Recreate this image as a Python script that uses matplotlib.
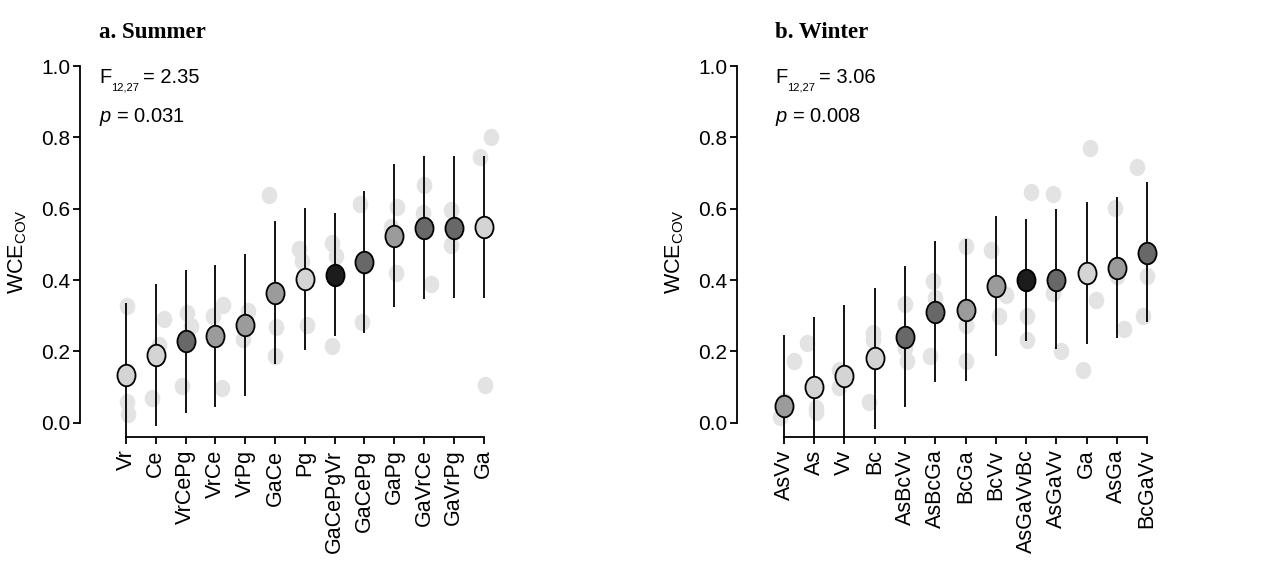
import matplotlib
matplotlib.use("Agg")
import matplotlib.pyplot as plt
from matplotlib.path import Path
from matplotlib.transforms import Affine2D

plt.rcParams['font.family'] = ['Liberation Sans', 'DejaVu Sans']
plt.rcParams['mathtext.fontset'] = 'custom'
plt.rcParams['mathtext.rm'] = 'Liberation Sans'
plt.rcParams['mathtext.it'] = 'Liberation Sans:italic'
plt.rcParams['mathtext.default'] = 'regular'

# ---------------- data ----------------
summer_labels = ["Vr", "Ce", "VrCePg", "VrCe", "VrPg", "GaCe", "Pg", "GaCePgVr",
                 "GaCePg", "GaPg", "GaVrCe", "GaVrPg", "Ga"]
summer_mean = [0.135, 0.19, 0.228, 0.242, 0.274, 0.365, 0.402, 0.415,
               0.45, 0.524, 0.546, 0.547, 0.55]
summer_low = [-0.04, -0.008, 0.027, 0.044, 0.074, 0.165, 0.203, 0.242,
              0.251, 0.324, 0.347, 0.349, 0.35]
summer_high = [0.335, 0.39, 0.427, 0.443, 0.473, 0.566, 0.601, 0.589,
               0.65, 0.725, 0.748, 0.748, 0.748]
summer_nspecies = [1, 1, 3, 2, 2, 2, 1, 4, 3, 2, 3, 3, 1]
summer_reps = [
    [0.328, 0.058, 0.025],
    [0.29, 0.069, 0.218],
    [0.309, 0.27, 0.104],
    [0.298, 0.33, 0.097],
    [0.312, 0.234, 0.27],
    [0.639, 0.268, 0.188],
    [0.487, 0.452, 0.275],
    [0.505, 0.468, 0.216],
    [0.613, 0.281, 0.44],
    [0.606, 0.55, 0.419],
    [0.667, 0.589, 0.39],
    [0.597, 0.499, 0.55],
    [0.802, 0.744, 0.105],
]
summer_jitter = [
    [0.02, 0.02, 0.06],
    [0.28, -0.14, 0.12],
    [0.04, 0.17, -0.11],
    [-0.07, 0.24, 0.23],
    [0.1, -0.08, 0.0],
    [-0.19, 0.03, 0.01],
    [-0.18, -0.1, 0.08],
    [-0.1, 0.05, -0.1],
    [-0.15, -0.09, 0.0],
    [0.08, -0.12, 0.06],
    [0.0, -0.04, 0.22],
    [-0.1, -0.1, 0.0],
    [0.24, -0.12, 0.06],
]
summer_F = ("F", "12,27", "= 2.35")
summer_p = r"$\it{p}$ = 0.031"

winter_labels = ["AsVv", "As", "Vv", "Bc", "AsBcVv", "AsBcGa", "BcGa", "BcVv",
                 "AsGaVvBc", "AsGaVv", "Ga", "AsGa", "BcGaVv"]
winter_mean = [0.048, 0.099, 0.131, 0.181, 0.24, 0.31, 0.315, 0.382,
               0.40, 0.40, 0.419, 0.435, 0.477]
winter_low = [-0.04, -0.04, -0.04, -0.018, 0.043, 0.114, 0.118, 0.186,
              0.23, 0.206, 0.222, 0.238, 0.281]
winter_high = [0.246, 0.295, 0.33, 0.377, 0.438, 0.51, 0.514, 0.58,
               0.571, 0.60, 0.619, 0.632, 0.675]
winter_nspecies = [2, 1, 1, 1, 3, 3, 2, 2, 4, 3, 1, 2, 3]
winter_reps = [
    [0.174, 0.017, 0.06],
    [0.223, 0.031, 0.04],
    [0.148, 0.101, 0.14],
    [0.251, 0.232, 0.057],
    [0.334, 0.172, 0.21],
    [0.397, 0.349, 0.188],
    [0.496, 0.275, 0.174],
    [0.485, 0.359, 0.298],
    [0.646, 0.298, 0.231],
    [0.641, 0.365, 0.20],
    [0.77, 0.345, 0.148],
    [0.602, 0.262, 0.41],
    [0.718, 0.412, 0.30],
]
winter_jitter = [
    [0.34, -0.13, 0.0],
    [-0.23, 0.05, 0.05],
    [-0.17, -0.17, 0.05],
    [-0.05, -0.05, -0.18],
    [0.0, 0.05, 0.0],
    [-0.06, 0.0, -0.17],
    [0.0, 0.0, 0.0],
    [-0.16, 0.34, 0.12],
    [0.17, 0.04, 0.04],
    [-0.12, -0.1, 0.15],
    [0.12, 0.31, -0.1],
    [-0.06, 0.24, 0.0],
    [-0.34, 0.0, -0.12],
]
winter_F = ("F", "12,27", "= 3.06")
winter_p = r"$\it{p}$ = 0.008"

fill_by_n = {1: "#d4d4d4", 2: "#9b9b9b", 3: "#686868", 4: "#1c1c1c"}

# ellipse marker (taller than wide)
ell = Path.unit_circle().transformed(Affine2D().scale(0.84, 1.0))
ell_small = Path.unit_circle().transformed(Affine2D().scale(0.9, 1.0))

W, H = 1272, 567
fig = plt.figure(figsize=(W / 100, H / 100), dpi=100)


def panel(left_px, first_px, step_px, labels, mean, low, high, nsp, reps, jit,
          title, ftxt, ptxt, text_x_px):
    right_px = left_px + 430
    bottom_px, top_px = 437, 66
    ax = fig.add_axes([left_px / W, 1 - bottom_px / H,
                       (right_px - left_px) / W, (bottom_px - top_px) / H])
    x0 = -(first_px - left_px) / step_px
    x1 = (right_px - first_px) / step_px
    ax.set_xlim(x0, x1)
    ax.set_ylim(-0.04, 1.0)
    n = len(labels)
    # replicate points
    for i in range(n):
        for v, j in zip(reps[i], jit[i]):
            ax.plot(i + j, v, marker=ell_small, ms=12.5, color="#e3e3e3",
                    mec='none', zorder=1, clip_on=False)
    for i in range(n):
        ax.plot([i, i], [low[i], high[i]], color='black', lw=1.3, zorder=2,
                solid_capstyle='butt', clip_on=False)
        ax.plot(i, mean[i], marker=ell, ms=15.5, mfc=fill_by_n[nsp[i]],
                mec='black', mew=1.3, zorder=3, clip_on=False)
    for s in ['top', 'right']:
        ax.spines[s].set_visible(False)
    ax.spines['left'].set_bounds(0, 1)
    ax.spines['bottom'].set_bounds(0, n - 1)
    ax.spines['left'].set_linewidth(1.3)
    ax.spines['bottom'].set_linewidth(1.3)
    ax.set_yticks([0.0, 0.2, 0.4, 0.6, 0.8, 1.0])
    ax.set_yticklabels(["0.0", "0.2", "0.4", "0.6", "0.8", "1.0"])
    ax.set_xticks(range(n))
    ax.set_xticklabels(labels, rotation=90)
    ax.tick_params(axis='y', labelsize=15, width=1.3, length=5, pad=2)
    ax.tick_params(axis='x', labelsize=15.5, width=1.3, length=5, pad=4)
    ax.set_ylabel(r"WCE$_{\mathregular{COV}}$", fontsize=15.5, labelpad=9)
    fig.text(text_x_px / W, 1 - 38 / H, title, family='Liberation Serif',
             fontweight='bold', fontsize=16.5, ha='left', va='baseline')
    # F statistic with small subscript
    fig.text(text_x_px / W, 1 - 83 / H, ftxt[0], fontsize=14.5, ha='left',
             va='baseline')
    fig.text((text_x_px + 12) / W, 1 - 90 / H, ftxt[1], fontsize=8,
             ha='left', va='baseline')
    fig.text((text_x_px + 44) / W, 1 - 83 / H, ftxt[2], fontsize=14.5,
             ha='left', va='baseline')
    fig.text(text_x_px / W, 1 - 122 / H, ptxt, fontsize=14.5, ha='left',
             va='baseline')
    return ax


panel(80, 126, 29.8, summer_labels, summer_mean, summer_low, summer_high,
      summer_nspecies, summer_reps, summer_jitter, "a. Summer", summer_F,
      summer_p, 99)
panel(737, 784, 30.25, winter_labels, winter_mean, winter_low, winter_high,
      winter_nspecies, winter_reps, winter_jitter, "b. Winter", winter_F,
      winter_p, 775)

fig.savefig("out.png", dpi=100)
